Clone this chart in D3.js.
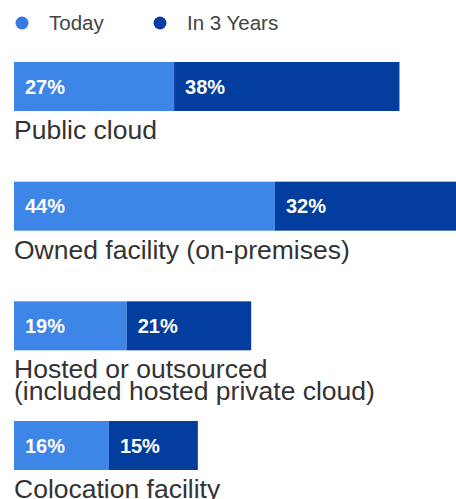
<!DOCTYPE html>
<html>
<head>
<meta charset="utf-8">
<script src="https://cdn.jsdelivr.net/npm/d3@7"></script>
<style>
  html, body { margin: 0; padding: 0; background: #ffffff; overflow: hidden; }
  svg { display: block; font-family: "Liberation Sans", Arial, sans-serif; }
</style>
</head>
<body>
<svg id="chart" width="456" height="499"></svg>
<script>
// Where workloads run: share today vs. in three years
const categories = [
  "Public cloud",
  "Owned facility (on-premises)",
  "Hosted or outsourced (included hosted private cloud)",
  "Colocation facility"
];
const categoryLines = [
  ["Public cloud"],
  ["Owned facility (on-premises)"],
  ["Hosted or outsourced", "(included hosted private cloud)"],
  ["Colocation facility"]
];
const seriesNames = ["Today", "In 3 Years"];
const today = [27, 44, 19, 16];
const in3Years = [38, 32, 21, 15];

const colors = ["#3d86e7", "#033d9e"];
const legendColors = ["#3479e4", "#0a3ea2"];

const svg = d3.select("#chart");

const x = d3.scaleLinear().domain([0, 100]).range([14, 607]);
const y = d3.scalePoint().domain(categories).range([62, 421]);
const barH = 49;

// Legend
const legend = svg.append("g");
const legendX = [22, 160];
seriesNames.forEach((name, i) => {
  legend.append("circle")
    .attr("cx", legendX[i]).attr("cy", 23).attr("r", 6.5)
    .attr("fill", legendColors[i]);
  legend.append("text")
    .attr("x", legendX[i] + 27).attr("y", 29.5)
    .attr("font-size", 20.5).attr("fill", "#444444")
    .text(name);
});

// Stacked rows
const rows = categories.map((c, i) => ({
  cat: c, lines: categoryLines[i],
  segs: [
    { v0: 0, v1: today[i], val: today[i], s: 0 },
    { v0: today[i], v1: today[i] + in3Years[i], val: in3Years[i], s: 1 }
  ]
}));

const row = svg.selectAll("g.row").data(rows).join("g").attr("class", "row");

row.selectAll("rect").data(d => d.segs.map(s => ({ ...s, cat: d.cat })))
  .join("rect")
  .attr("x", d => x(d.v0))
  .attr("y", d => y(d.cat))
  .attr("width", d => x(d.v1) - x(d.v0))
  .attr("height", barH)
  .attr("fill", d => colors[d.s]);

row.selectAll("text.val").data(d => d.segs.map(s => ({ ...s, cat: d.cat })))
  .join("text")
  .attr("class", "val")
  .attr("x", d => x(d.v0) + 11)
  .attr("y", d => y(d.cat) + barH / 2 + 7)
  .attr("font-size", 20).attr("font-weight", "bold")
  .attr("fill", "#ffffff")
  .text(d => d.val + "%");

row.each(function(d) {
  const t = d3.select(this).append("text")
    .attr("x", 14)
    .attr("y", y(d.cat) + barH + 28)
    .attr("font-size", 26.5).attr("fill", "#333333");
  d.lines.forEach((ln, j) => {
    t.append("tspan").attr("x", 14).attr("dy", j === 0 ? 0 : 22).text(ln);
  });
});
</script>
</body>
</html>
